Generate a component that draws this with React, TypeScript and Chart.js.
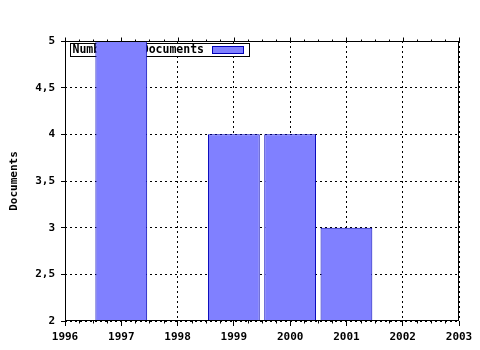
import React, { useEffect, useRef } from "react";
import { Chart, registerables } from "chart.js";

Chart.register(...registerables);

const seriesLabel = "Number of Documents";
const years = [1997, 1999, 2000, 2001];
const documents = [5, 4, 4, 3];
const xTickLabels = ["1996", "1997", "1998", "1999", "2000", "2001", "2002", "2003"];
const yTickLabels = ["2", "2,5", "3", "3,5", "4", "4,5", "5"];
const yTitle = "Documents";

const FONT = "DejaVu Sans Mono";
const BAR_FILL = "#8080ff";
const BAR_EDGE = "#0000b8";

const framePlugin = {
  id: "framePlugin",
  beforeDatasetsDraw(chart: any) {
    const { ctx, chartArea } = chart;
    const ds = chart.data.datasets[0];
    ctx.save();
    const x0 = Math.round(chartArea.left) + 5.5;
    const y0 = Math.round(chartArea.top) + 2.5;
    ctx.font = `bold 11.5px "${FONT}"`;
    const tw = ctx.measureText(ds.label).width;
    const w = Math.round(tw + 47);
    const h = 13;
    ctx.fillStyle = "#ffffff";
    ctx.fillRect(x0, y0, w, h);
    ctx.strokeStyle = "#000000";
    ctx.lineWidth = 1;
    ctx.strokeRect(x0, y0, w, h);
    ctx.fillStyle = "#000000";
    ctx.textBaseline = "middle";
    ctx.textAlign = "left";
    ctx.fillText(ds.label, x0 + 2, y0 + h / 2 + 0.5);
    const sx = x0 + w - 37;
    ctx.fillStyle = ds.backgroundColor;
    ctx.fillRect(sx, y0 + 3, 31, 7);
    ctx.strokeStyle = ds.borderColor;
    ctx.strokeRect(sx, y0 + 3, 31, 7);
    ctx.restore();
  },
  afterDatasetsDraw(chart: any) {
    const { ctx, chartArea, scales } = chart;
    const l = Math.round(chartArea.left) + 0.5;
    const r = Math.round(chartArea.right) - 0.5;
    const t = Math.round(chartArea.top) + 0.5;
    const b = Math.round(chartArea.bottom) - 0.5;
    ctx.save();
    ctx.strokeStyle = "#000000";
    ctx.lineWidth = 1;
    ctx.setLineDash([]);
    ctx.strokeRect(l, t, r - l, b - t);
    const xs = scales.x;
    ctx.beginPath();
    for (let v = xs.min; v <= xs.max + 1e-9; v += 0.25) {
      const px = Math.round(xs.getPixelForValue(v)) + 0.5;
      const major = Math.abs(v - Math.round(v)) < 1e-6;
      ctx.moveTo(px, t);
      ctx.lineTo(px, t - (major ? 4 : 2));
      if (!major) {
        ctx.moveTo(px, b);
        ctx.lineTo(px, b + 3);
      }
    }
    ctx.stroke();
    ctx.restore();
  },
};

export default function App() {
  const ref = useRef<HTMLCanvasElement | null>(null);
  useEffect(() => {
    if (!ref.current) return;
    const chart = new Chart(ref.current, {
      type: "bar",
      data: {
        datasets: [
          {
            label: seriesLabel,
            data: years.map((y, i) => ({ x: y, y: documents[i] })),
            backgroundColor: BAR_FILL,
            borderColor: BAR_EDGE,
            borderWidth: 1,
            categoryPercentage: 1,
            barPercentage: 0.92,
          },
        ],
      },
      options: {
        responsive: false,
        animation: false,
        layout: { padding: { left: 0, right: 21, top: 41, bottom: 0 } },
        plugins: { legend: { display: false }, tooltip: { enabled: false } },
        scales: {
          x: {
            type: "linear",
            min: 1996,
            max: 2003,
            offset: false,
            afterFit: (s: any) => {
              s.height = 29;
            },
            ticks: {
              stepSize: 1,
              autoSkip: false,
              maxRotation: 0,
              padding: 5,
              color: "#000000",
              font: { family: FONT, weight: "bold", size: 11 },
              callback: (_v: any, i: number) => xTickLabels[i],
            },
            grid: {
              offset: false,
              color: "#000000",
              tickColor: "#000000",
              tickLength: 5,
              lineWidth: 1,
            },
            border: { display: false, color: "#000000", width: 1, dash: [2, 3] },
          },
          y: {
            min: 2,
            max: 5,
            afterFit: (s: any) => {
              s.width = 65;
            },
            title: {
              display: true,
              text: yTitle,
              color: "#000000",
              padding: { top: 8, bottom: 0 },
              font: { family: FONT, weight: "bold", size: 11 },
            },
            ticks: {
              stepSize: 0.5,
              padding: 6,
              color: "#000000",
              font: { family: FONT, weight: "bold", size: 11 },
              callback: (_v: any, i: number) => yTickLabels[i],
            },
            grid: {
              color: "#000000",
              tickColor: "#000000",
              tickLength: 4,
              lineWidth: 1,
            },
            border: { display: false, color: "#000000", width: 1, dash: [2, 3] },
          },
        },
      },
      plugins: [framePlugin],
    });
    return () => chart.destroy();
  }, []);
  return (
    <div style={{ position: "absolute", left: 0, top: 0, width: 480, height: 350, background: "#ffffff" }}>
      <canvas ref={ref} width={480} height={350} />
    </div>
  );
}
